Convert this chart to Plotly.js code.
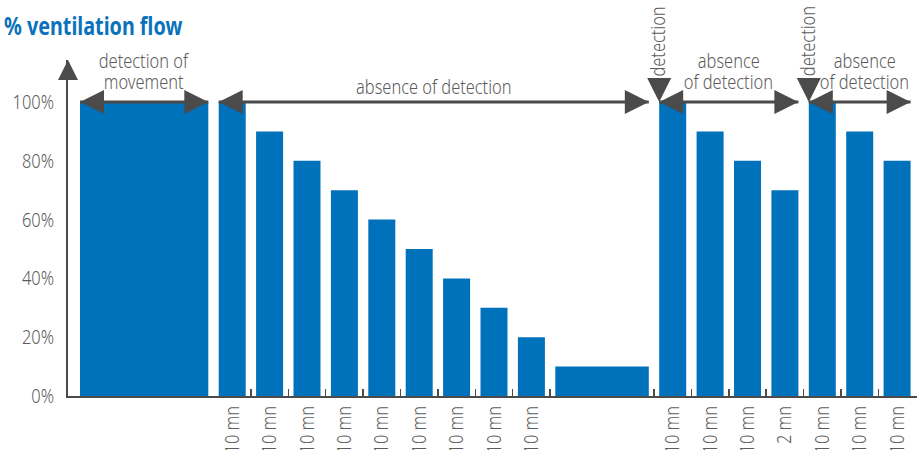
<!DOCTYPE html>
<html><head><meta charset="utf-8">
<script src="https://cdn.plot.ly/plotly-3.0.1.min.js"></script>
<style>html,body{margin:0;padding:0;background:#fff}</style>
</head><body><div id="chart" style="width:922px;height:450px"></div>
<script>
// ---------- data ----------
const flowValues = [100, 100, 90, 80, 70, 60, 50, 40, 30, 20, 10, 100, 90, 80, 70, 100, 90, 80];
const stepLabels = ['', '10 mn', '10 mn', '10 mn', '10 mn', '10 mn', '10 mn', '10 mn', '10 mn', '10 mn', '',
                    '10 mn', '10 mn', '10 mn', '2 mn', '10 mn', '10 mn', '10 mn'];
// phase index of every bar
const barPhase = [0, 1, 1, 1, 1, 1, 1, 1, 1, 1, 1, 2, 2, 2, 2, 3, 3, 3];
const phaseTitles = [['detection of', 'movement'], ['absence of detection'], ['absence', 'of detection'], ['absence', 'of detection']];
const detectionLabel = 'detection';
const titleText = '% ventilation flow';
const yTickVals = [0, 20, 40, 60, 80, 100];
const yTickText = ['0%', '20%', '40%', '60%', '80%', '100%'];

// ---------- layout geometry (styles) ----------
const FONT = "'Noto Sans', 'DejaVu Sans', sans-serif";
const BLUE = '#0071bb', DARK = '#4b4b4b', GREY = '#5b5b5b';
const narrowW = 27, gapW = 10.4, startOff = 12;
const wideW = {0: 128.3, 10: 93.5};
const xMax = 849, yMax = 114.3;
const FS = 20;

const widths = flowValues.map((v, i) => wideW[i] !== undefined ? wideW[i] : narrowW);
const lefts = [];
let cur = startOff;
widths.forEach((w, i) => { lefts.push(cur); cur += w + gapW; });
const centers = lefts.map((l, i) => l + widths[i] / 2);
const tickGaps = lefts.filter((l, i) => i >= 2).map(l => l - gapW / 2);
const labIdx = stepLabels.map((s, i) => i).filter(i => stepLabels[i] !== '');

const traces = [];
traces.push({type: 'bar', x: centers, y: flowValues, width: widths,
  marker: {color: BLUE, line: {width: 0}}, hoverinfo: 'skip'});
traces.push({type: 'scatter', x: [], y: [], xaxis: 'x2', showlegend: false});

// phase arrows
const nPh = phaseTitles.length;
const phaseSpan = [];
for (let p = 0; p < nPh; p++) {
  const ids = barPhase.map((b, i) => i).filter(i => barPhase[i] === p);
  const a = lefts[ids[0]], b = lefts[ids[ids.length - 1]] + widths[ids[ids.length - 1]];
  phaseSpan.push([a, b]);
  traces.push({type: 'scatter', mode: 'lines+markers', x: [a, b], y: [100, 100],
    line: {color: DARK, width: 3}, cliponaxis: false,
    marker: {symbol: ['arrow-left', 'arrow-right'], size: 24, color: DARK},
    hoverinfo: 'skip'});
}
// detection instants = start of phases 2 and 3
const detX = [phaseSpan[2][0], phaseSpan[3][0]];
traces.push({type: 'scatter', mode: 'markers', x: detX, y: [100, 100], cliponaxis: false,
  marker: {symbol: 'arrow-down', size: 24, color: DARK}, hoverinfo: 'skip'});
// y axis arrow
traces.push({type: 'scatter', mode: 'markers', x: [0], y: [yMax], cliponaxis: false,
  marker: {symbol: 'arrow-up', size: 20, color: DARK}, hoverinfo: 'skip'});

const txtFont = {family: FONT, size: FS, color: GREY, weight: 300};
const annotations = [];
phaseTitles.forEach((lines, p) => {
  const cx = (phaseSpan[p][0] + phaseSpan[p][1]) / 2;
  lines.forEach((t, k) => {
    const shift = lines.length === 1 ? 16 : (k === 0 ? 42 : 21);
    annotations.push({x: cx, y: 100, xref: 'x', yref: 'y', text: t, showarrow: false,
      xanchor: 'center', yanchor: 'middle', yshift: shift, xshift: p === 3 ? 5 : 0, font: txtFont});
  });
});
detX.forEach(x => annotations.push({x: x, y: 100, xref: 'x', yref: 'y', text: detectionLabel,
  showarrow: false, textangle: -90, xanchor: 'center', yanchor: 'middle', yshift: 61, xshift: -2,
  font: txtFont}));

const layout = {
  width: 922, height: 450, margin: {l: 68, r: 5, t: 60, b: 54},
  paper_bgcolor: '#fff', plot_bgcolor: '#fff', showlegend: false,
  title: {text: titleText, x: 4 / 922, xanchor: 'left', xref: 'container', y: 1 - 26 / 450, yanchor: 'middle', yref: 'container',
    font: {family: FONT, size: 25, color: '#0a72ba', weight: 'bold'}},
  xaxis: {range: [0, xMax], showgrid: false, zeroline: false, showline: true, linecolor: DARK, linewidth: 2,
    tickmode: 'array', tickvals: tickGaps, ticks: 'inside', ticklen: 7, tickwidth: 1.5, tickcolor: DARK,
    showticklabels: false, fixedrange: true},
  xaxis2: {range: [0, xMax], overlaying: 'x', anchor: 'y', side: 'bottom', showgrid: false, zeroline: false,
    showline: false, tickmode: 'array', tickvals: labIdx.map(i => centers[i]), ticktext: labIdx.map(i => stepLabels[i]),
    tickangle: -90, ticks: '', ticklabelstandoff: 5, tickfont: txtFont, fixedrange: true},
  yaxis: {range: [0, yMax], showgrid: false, zeroline: false, showline: true, linecolor: DARK, linewidth: 2,
    tickmode: 'array', tickvals: yTickVals, ticktext: yTickText, ticks: '', ticklabelstandoff: 8,
    tickfont: txtFont, fixedrange: true},
  annotations: annotations
};
Plotly.newPlot('chart', traces, layout, {displayModeBar: false, staticPlot: true}).then(() => {
  // condense the glyphs (the reference uses a condensed typeface)
  document.querySelectorAll('#chart svg text').forEach(t => {
    const ratio = t.classList.contains('gtitle') ? 0.79 : 0.82;
    const L = t.getComputedTextLength();
    if (L > 0) {
      t.setAttribute('textLength', (L * ratio).toFixed(1));
      t.setAttribute('lengthAdjust', 'spacingAndGlyphs');
    }
  });
});
</script></body></html>
